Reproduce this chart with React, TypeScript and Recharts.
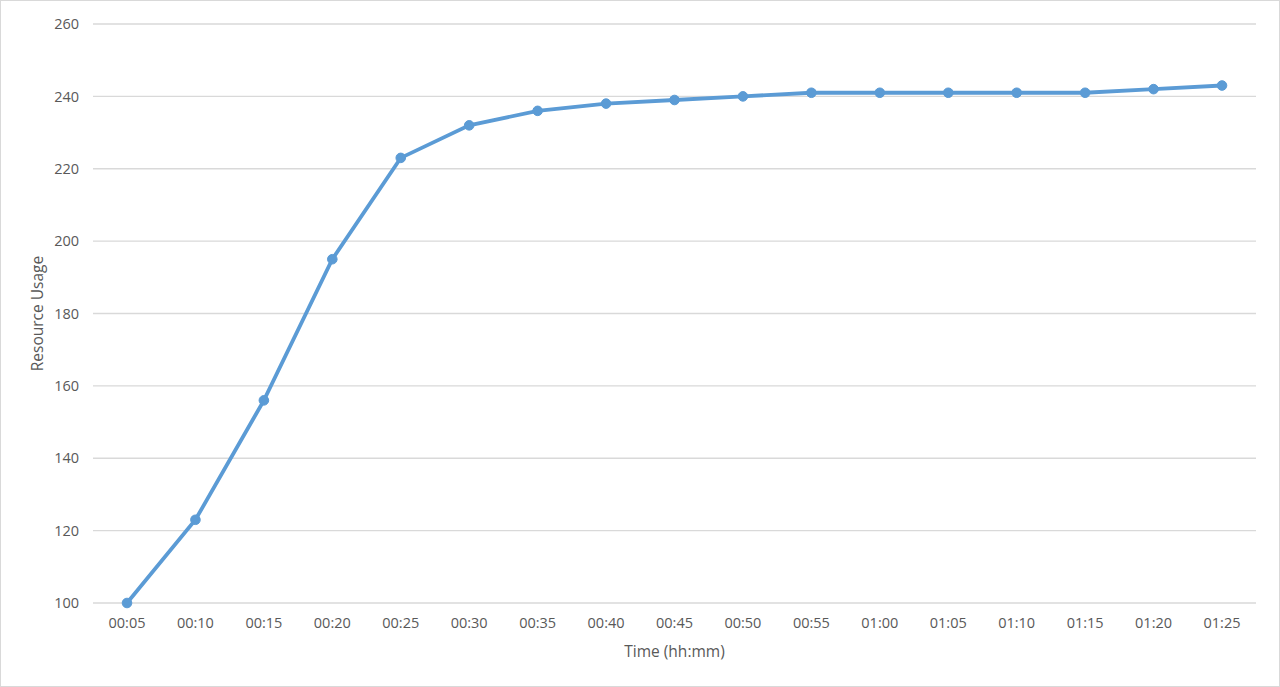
import React from "react";
import { LineChart, Line, XAxis, YAxis, CartesianGrid } from "recharts";

const times = ["00:05","00:10","00:15","00:20","00:25","00:30","00:35","00:40","00:45","00:50","00:55","01:00","01:05","01:10","01:15","01:20","01:25"];
const usage = [100, 123, 156, 195, 223, 232, 236, 238, 239, 240, 241, 241, 241, 241, 241, 242, 243];
const yTicks = [100, 120, 140, 160, 180, 200, 220, 240, 260];

const data = times.map((t, i) => ({ time: t, usage: usage[i] }));

const FONT = "'Open Sans', 'Noto Sans', sans-serif";
const TEXT = "#595959";

export default function App() {
  return (
    <div
      style={{
        position: "absolute",
        left: 0,
        top: 0,
        width: 1280,
        height: 687,
        boxSizing: "border-box",
        border: "1px solid #d9d9d9",
        background: "#fff",
        fontFamily: FONT,
      }}
    >
      <div style={{ position: "absolute", left: -1, top: -1 }}>
        <LineChart
          width={1280}
          height={687}
          data={data}
          margin={{ top: 24, right: 24, bottom: 24, left: 0 }}
        >
          <CartesianGrid vertical={false} stroke="#d9d9d9" strokeWidth={1.3} />
          <XAxis
            dataKey="time"
            height={60}
            padding={{ left: 34, right: 34 }}
            axisLine={false}
            tickLine={false}
            tickSize={6}
            tickMargin={9}
            tick={{ fill: TEXT, fontSize: 14.5, fontFamily: FONT }}
            interval={0}
            label={{
              value: "Time (hh:mm)",
              position: "insideBottom",
              offset: 6.5,
              fill: TEXT,
              fontSize: 15.5,
              fontFamily: FONT,
            }}
          />
          <YAxis
            width={93}
            domain={[100, 260]}
            ticks={yTicks}
            axisLine={false}
            tickLine={false}
            tickSize={6}
            tickMargin={8}
            tick={{ fill: TEXT, fontSize: 14.5, fontFamily: FONT }}
            label={{
              value: "Resource Usage",
              angle: -90,
              position: "insideLeft",
              offset: 37,
              fill: TEXT,
              fontSize: 15.5,
              fontFamily: FONT,
              style: { textAnchor: "middle" },
            }}
          />
          <Line
            type="linear"
            dataKey="usage"
            stroke="#5b9bd5"
            strokeWidth={3.8}
            dot={{ r: 4.8, fill: "#5b9bd5", stroke: "#5b9bd5", strokeWidth: 1 }}
            isAnimationActive={false}
          />
        </LineChart>
      </div>
    </div>
  );
}
